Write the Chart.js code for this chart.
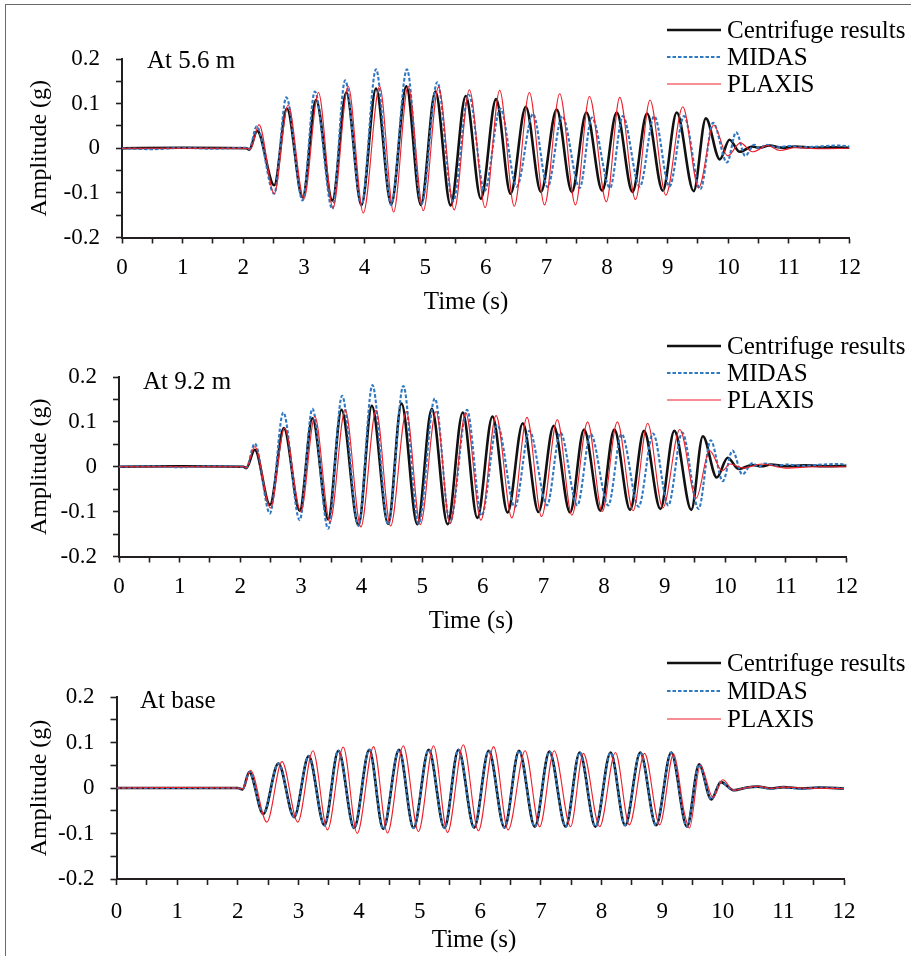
<!DOCTYPE html>
<html>
<head>
<meta charset="utf-8">
<script src="https://cdn.jsdelivr.net/npm/chart.js@4.4.1/dist/chart.umd.min.js"></script>
<style>
  html, body { margin: 0; padding: 0; background: #fff; }
  body { width: 911px; height: 956px; position: relative; overflow: hidden; }
  #frame { position: absolute; left: 5px; top: 4px; width: 1000px; height: 1000px;
           border: 1.5px solid #6a6a6a; box-sizing: border-box; }
  canvas { position: absolute; left: 0; }
</style>
</head>
<body>
<div id="frame"></div>
<canvas id="p1" width="911" height="320" style="top:0px"></canvas>
<canvas id="p2" width="911" height="320" style="top:320px"></canvas>
<canvas id="p3" width="911" height="316" style="top:640px"></canvas>
<script>
// ---- Labels ----
const seriesNames = ['Centrifuge results', 'MIDAS', 'PLAXIS'];
const panelNotes = ['At 5.6 m', 'At 9.2 m', 'At base'];
const xTitle = 'Time (s)';
const yTitle = 'Amplitude (g)';
const xTickValues = [0, 1, 2, 3, 4, 5, 6, 7, 8, 9, 10, 11, 12];
const xTickLabels = ['0', '1', '2', '3', '4', '5', '6', '7', '8', '9', '10', '11', '12'];
const yTickValues = [-0.2, -0.1, 0, 0.1, 0.2];
const yTickLabels = ['-0.2', '-0.1', '0', '0.1', '0.2'];

// ---- Acceleration records, [time (s), amplitude (g)] ----
// At 5.6 m
const centrifuge56 = [
  [0, 0], [1, 0.001], [2.05, 0], [2.1, -0.003],
  [2.23, 0.039], [2.51, -0.083], [2.72, 0.089], [2.98, -0.11], [3.2, 0.108], [3.47, -0.117],
  [3.7, 0.125], [3.95, -0.127], [4.19, 0.134], [4.44, -0.125], [4.69, 0.139], [4.93, -0.127],
  [5.17, 0.127], [5.42, -0.128], [5.67, 0.117], [5.92, -0.113], [6.17, 0.11], [6.41, -0.102],
  [6.66, 0.093], [6.91, -0.098], [7.17, 0.087], [7.42, -0.098], [7.66, 0.08], [7.92, -0.095],
  [8.16, 0.08], [8.42, -0.098], [8.66, 0.078], [8.92, -0.095], [9.15, 0.08], [9.43, -0.096],
  [9.63, 0.067], [9.86, -0.025], [10.02, 0.019], [10.19, -0.008], [10.4, 0.004], [10.5, 0.001],
  [10.68, 0.006], [10.9, 0.001], [11.1, 0.004], [11.4, 0.001], [11.7, 0.002], [12, 0.001]
];
const midas56 = [
  [0, 0], [0.5, -0.002], [1, 0.001], [1.5, -0.001], [2.05, 0.001], [2.1, -0.002],
  [2.22, 0.049], [2.51, -0.102], [2.71, 0.114], [2.98, -0.117], [3.18, 0.127], [3.47, -0.136],
  [3.68, 0.152], [3.95, -0.128], [4.19, 0.177], [4.44, -0.127], [4.7, 0.177], [4.94, -0.125],
  [5.2, 0.148], [5.46, -0.119], [5.72, 0.12], [5.98, -0.096], [6.24, 0.089], [6.51, -0.086],
  [6.78, 0.077], [7.02, -0.087], [7.26, 0.072], [7.55, -0.089], [7.75, 0.069], [8.05, -0.089],
  [8.26, 0.072], [8.54, -0.086], [8.78, 0.072], [9.03, -0.086], [9.27, 0.072], [9.54, -0.092],
  [9.75, 0.057], [9.98, -0.032], [10.13, 0.036], [10.28, -0.017], [10.43, 0.008], [10.52, -0.001],
  [10.62, 0.008], [10.8, 0.002], [11, 0.005], [11.2, 0.002], [11.5, 0.004], [11.8, 0.006], [12, 0.004]
];
const plaxis56 = [
  [0, 0], [1, 0], [2.05, 0], [2.12, -0.002],
  [2.26, 0.053], [2.51, -0.102], [2.74, 0.097], [3.0, -0.113], [3.24, 0.125], [3.48, -0.134],
  [3.73, 0.139], [3.98, -0.145], [4.25, 0.139], [4.48, -0.143], [4.72, 0.139], [4.97, -0.14],
  [5.22, 0.137], [5.48, -0.138], [5.73, 0.131], [5.99, -0.133], [6.23, 0.13], [6.47, -0.13],
  [6.72, 0.125], [6.97, -0.127], [7.22, 0.122], [7.48, -0.127], [7.71, 0.116], [7.99, -0.12],
  [8.21, 0.114], [8.47, -0.115], [8.71, 0.108], [8.97, -0.105], [9.25, 0.093], [9.51, -0.089],
  [9.76, 0.052], [9.99, -0.017], [10.2, 0.012], [10.4, -0.008], [10.65, 0.006], [10.85, -0.005],
  [11.1, 0.001], [11.5, -0.001], [12, 0]
];

// At 9.2 m
const centrifuge92 = [
  [0, 0], [1, 0.001], [2.05, 0], [2.1, -0.003],
  [2.24, 0.038], [2.49, -0.085], [2.72, 0.086], [2.98, -0.098], [3.19, 0.108], [3.45, -0.117],
  [3.67, 0.127], [3.95, -0.13], [4.17, 0.136], [4.44, -0.127], [4.66, 0.141], [4.92, -0.128],
  [5.16, 0.129], [5.42, -0.128], [5.67, 0.121], [5.91, -0.114], [6.16, 0.112], [6.41, -0.102],
  [6.66, 0.097], [6.92, -0.101], [7.17, 0.091], [7.44, -0.102], [7.67, 0.083], [7.94, -0.098],
  [8.17, 0.083], [8.43, -0.096], [8.66, 0.08], [8.93, -0.094], [9.16, 0.08], [9.44, -0.096],
  [9.63, 0.068], [9.86, -0.024], [10.04, 0.02], [10.22, -0.005], [10.45, 0.004], [10.6, 0.001],
  [10.75, 0.005], [11, 0.001], [11.3, 0.003], [11.7, 0.001], [12, 0.002]
];
const midas92 = [
  [0, 0], [0.5, 0.001], [1, -0.001], [1.5, 0.001], [2.05, 0], [2.1, -0.002],
  [2.24, 0.052], [2.49, -0.104], [2.71, 0.121], [2.98, -0.119], [3.19, 0.129], [3.45, -0.138],
  [3.68, 0.158], [3.95, -0.132], [4.18, 0.182], [4.44, -0.129], [4.69, 0.18], [4.94, -0.127],
  [5.21, 0.152], [5.46, -0.124], [5.74, 0.127], [5.98, -0.109], [6.24, 0.093], [6.53, -0.09],
  [6.77, 0.08], [7.06, -0.086], [7.28, 0.076], [7.56, -0.086], [7.78, 0.073], [8.07, -0.086],
  [8.29, 0.073], [8.57, -0.089], [8.81, 0.074], [9.06, -0.086], [9.29, 0.076], [9.56, -0.094],
  [9.76, 0.059], [9.96, -0.032], [10.12, 0.036], [10.28, -0.017], [10.45, 0.008], [10.55, 0],
  [10.65, 0.007], [10.85, 0.002], [11, 0.005], [11.3, 0.002], [11.6, 0.005], [11.9, 0.006], [12, 0.004]
];
const plaxis92 = [
  [0, 0], [1, 0], [2.05, 0], [2.1, -0.002],
  [2.24, 0.045], [2.5, -0.092], [2.73, 0.086], [3.0, -0.1], [3.23, 0.112], [3.48, -0.123],
  [3.73, 0.127], [3.99, -0.134], [4.24, 0.126], [4.48, -0.132], [4.74, 0.123], [4.97, -0.129],
  [5.23, 0.123], [5.46, -0.127], [5.72, 0.12], [5.97, -0.119], [6.22, 0.114], [6.48, -0.114],
  [6.73, 0.11], [6.97, -0.111], [7.23, 0.105], [7.47, -0.108], [7.73, 0.1], [7.97, -0.1],
  [8.22, 0.1], [8.48, -0.098], [8.72, 0.097], [8.97, -0.092], [9.25, 0.083], [9.52, -0.07],
  [9.74, 0.036], [9.95, -0.009], [10.08, 0.006], [10.3, -0.003], [10.6, 0.006], [11, -0.003],
  [11.5, 0], [12, 0]
];

// At base
const centrifugeBase = [
  [0, 0], [1, 0], [2.0, 0], [2.08, -0.003],
  [2.19, 0.035], [2.42, -0.057], [2.67, 0.054], [2.93, -0.064], [3.17, 0.07], [3.43, -0.082],
  [3.66, 0.082], [3.92, -0.088], [4.17, 0.084], [4.4, -0.09], [4.66, 0.084], [4.9, -0.088],
  [5.15, 0.084], [5.41, -0.088], [5.64, 0.084], [5.9, -0.087], [6.14, 0.082], [6.4, -0.087],
  [6.64, 0.082], [6.9, -0.085], [7.14, 0.08], [7.41, -0.085], [7.64, 0.078], [7.9, -0.085],
  [8.15, 0.078], [8.39, -0.082], [8.64, 0.078], [8.9, -0.082], [9.15, 0.078], [9.41, -0.085],
  [9.61, 0.052], [9.81, -0.025], [9.97, 0.013], [10.18, -0.005], [10.4, 0.001], [10.57, 0.003],
  [10.8, -0.001], [11, 0.002], [11.3, -0.001], [11.6, 0.001], [12, -0.001]
];
const midasBase = [
  [0, 0], [1, 0], [2.0, 0], [2.08, -0.003],
  [2.19, 0.035], [2.42, -0.057], [2.67, 0.054], [2.93, -0.064], [3.17, 0.07], [3.43, -0.082],
  [3.66, 0.082], [3.92, -0.088], [4.17, 0.084], [4.4, -0.09], [4.66, 0.084], [4.9, -0.088],
  [5.15, 0.084], [5.41, -0.088], [5.64, 0.084], [5.9, -0.087], [6.14, 0.082], [6.4, -0.087],
  [6.64, 0.082], [6.9, -0.085], [7.14, 0.08], [7.41, -0.085], [7.64, 0.078], [7.9, -0.085],
  [8.15, 0.078], [8.39, -0.082], [8.64, 0.078], [8.9, -0.082], [9.15, 0.078], [9.41, -0.085],
  [9.61, 0.052], [9.81, -0.025], [9.97, 0.013], [10.18, -0.005], [10.4, 0.001], [10.57, 0.003],
  [10.8, -0.002], [11, 0.002], [11.3, -0.002], [11.6, 0.001], [12, -0.001]
];
const plaxisBase = [
  [0, 0], [1, 0.001], [2.0, 0], [2.08, -0.002],
  [2.21, 0.039], [2.48, -0.075], [2.73, 0.058], [2.99, -0.075], [3.24, 0.082], [3.48, -0.092],
  [3.74, 0.09], [3.97, -0.1], [4.24, 0.091], [4.47, -0.099], [4.73, 0.093], [4.98, -0.096],
  [5.23, 0.093], [5.46, -0.098], [5.72, 0.095], [5.97, -0.094], [6.22, 0.091], [6.46, -0.092],
  [6.74, 0.082], [6.98, -0.085], [7.22, 0.082], [7.49, -0.085], [7.7, 0.076], [7.97, -0.085],
  [8.23, 0.078], [8.46, -0.081], [8.71, 0.076], [8.96, -0.081], [9.19, 0.075], [9.36, -0.05],
  [9.45, -0.088], [9.63, 0.05], [9.84, -0.021], [10.0, 0.018], [10.18, -0.005], [10.4, 0.001],
  [10.57, 0.004], [10.8, -0.001], [11, 0.002], [11.3, 0], [12, -0.001]
];

const panelSeries = [
  [centrifuge56, midas56, plaxis56],
  [centrifuge92, midas92, plaxis92],
  [centrifugeBase, midasBase, plaxisBase]
];

// ---- Styles and page geometry (page pixels) ----
const FONT = "'Liberation Serif', 'Times New Roman', serif";
const INK = '#231f20';
const seriesStyles = [
  { color: '#111111', width: 2.6, dash: [] },
  { color: '#2f78c2', width: 2.1, dash: [3.5, 2] },
  { color: '#ee1f2a', width: 1.1, dash: [] }
];
const panelGeometry = [
  { id: 'p1', top: 0,   height: 320, left: 122,   right: 849.5, plotTop: 59,  plotBottom: 237.5,
    tickY: 268, titleX: 466, titleY: 302, legendY: [30, 57, 84],   noteX: 147, noteY: 61 },
  { id: 'p2', top: 320, height: 320, left: 119,   right: 846.5, plotTop: 377, plotBottom: 556.5,
    tickY: 587, titleX: 471, titleY: 621, legendY: [346, 373, 400], noteX: 143, noteY: 382 },
  { id: 'p3', top: 640, height: 316, left: 116.5, right: 844,   plotTop: 697, plotBottom: 879,
    tickY: 912, titleX: 474, titleY: 940, legendY: [663, 691, 719], noteX: 140, noteY: 701 }
];
const TICK_FONT = 23, TITLE_FONT = 25, YTITLE_FONT = 24, LEGEND_FONT = 25, NOTE_FONT = 25;
const LINE_H = 1.2;

function labelFor(values, labels, v) {
  const i = values.findIndex(t => Math.abs(t - v) < 1e-9);
  return i >= 0 ? labels[i] : '';
}

// Legend entries, depth label and time-axis title, drawn at fixed spots on the page
const panelDecor = {
  id: 'panelDecor',
  afterDraw(chart, args, opts) {
    const ctx = chart.ctx;
    ctx.save();
    chart.data.datasets.forEach((ds, i) => {
      const y = opts.legendY[i] - opts.top;
      ctx.beginPath();
      ctx.strokeStyle = ds.borderColor;
      ctx.lineWidth = ds.borderWidth;
      ctx.setLineDash(ds.borderDash || []);
      ctx.moveTo(667, y);
      ctx.lineTo(721, y);
      ctx.stroke();
      ctx.setLineDash([]);
      ctx.fillStyle = '#000';
      ctx.font = LEGEND_FONT + 'px ' + FONT;
      ctx.textBaseline = 'middle';
      ctx.textAlign = 'left';
      ctx.fillText(ds.label, 727, y + 1);
    });
    ctx.fillStyle = '#000';
    ctx.textBaseline = 'middle';
    ctx.font = NOTE_FONT + 'px ' + FONT;
    ctx.textAlign = 'left';
    ctx.fillText(opts.note, opts.noteX, opts.noteY - opts.top);
    ctx.font = TITLE_FONT + 'px ' + FONT;
    ctx.textAlign = 'center';
    ctx.fillText(xTitle, opts.titleX, opts.titleY - opts.top);
    ctx.restore();
  }
};

panelGeometry.forEach((g, p) => {
  const xAxisH = g.titleY - g.plotBottom + 14;
  const tickPadX = g.tickY - g.plotBottom - 6 - (TICK_FONT * LINE_H) / 2;
  const padBottom = g.height - (g.plotBottom - g.top) - xAxisH;

  const datasets = panelSeries[p].map((rows, i) => ({
    label: seriesNames[i],
    data: rows.map(r => ({ x: r[0], y: r[1] })),
    borderColor: seriesStyles[i].color,
    borderWidth: seriesStyles[i].width,
    borderDash: seriesStyles[i].dash,
    pointRadius: 0,
    fill: false,
    cubicInterpolationMode: 'monotone',
    order: 3 - i
  }));

  new Chart(document.getElementById(g.id), {
    type: 'line',
    data: { datasets },
    options: {
      responsive: false,
      animation: false,
      devicePixelRatio: 1,
      layout: { padding: { left: 0, right: 911 - g.right, top: g.plotTop - g.top, bottom: padBottom } },
      plugins: {
        legend: { display: false },
        tooltip: { enabled: false },
        panelDecor: { top: g.top, legendY: g.legendY, note: panelNotes[p], noteX: g.noteX, noteY: g.noteY,
                      titleX: g.titleX, titleY: g.titleY }
      },
      scales: {
        x: {
          type: 'linear', min: 0, max: 12,
          grid: { drawOnChartArea: false, drawTicks: true, tickLength: 6, tickColor: INK, tickWidth: 1.6 },
          border: { display: true, color: INK, width: 2 },
          ticks: {
            stepSize: 0.5, autoSkip: false, maxRotation: 0, padding: tickPadX,
            color: '#000', font: { family: FONT, size: TICK_FONT, lineHeight: LINE_H },
            callback: v => labelFor(xTickValues, xTickLabels, v)
          },
          title: { display: false },
          afterFit: s => { s.height = xAxisH; }
        },
        y: {
          type: 'linear', min: -0.2, max: 0.2,
          grid: { drawOnChartArea: false, drawTicks: true, tickLength: 6, tickColor: INK, tickWidth: 1.6 },
          border: { display: true, color: INK, width: 2 },
          ticks: {
            stepSize: 0.05, autoSkip: false, padding: 16,
            color: '#000', font: { family: FONT, size: TICK_FONT, lineHeight: LINE_H },
            callback: v => labelFor(yTickValues, yTickLabels, v)
          },
          title: { display: true, text: yTitle, color: '#000', padding: { top: 25, bottom: 0 },
                   font: { family: FONT, size: YTITLE_FONT, lineHeight: LINE_H } },
          afterFit: s => { s.width = g.left; }
        }
      }
    },
    plugins: [panelDecor]
  });
});
</script>
</body>
</html>
